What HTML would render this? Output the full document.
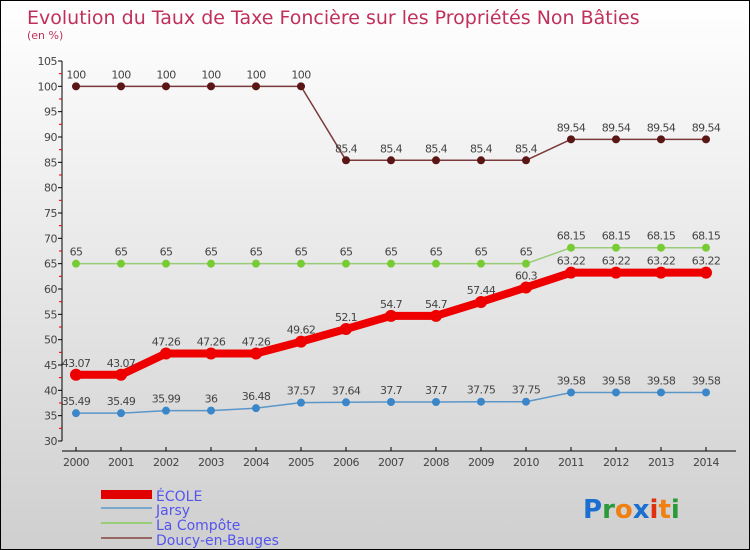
<!DOCTYPE html>
<html><head><meta charset="utf-8">
<style>
html,body{margin:0;padding:0;}
body{width:750px;height:550px;overflow:hidden;font-family:"DejaVu Sans","Liberation Sans",sans-serif;}
#wrap{position:absolute;left:0;top:0;width:748px;height:548px;border:1px solid #000;background:linear-gradient(#ffffff,#cfcfcf);}
</style></head>
<body>
<div id="wrap">
<svg id="chart" width="748" height="548" style="position:absolute;left:0;top:0">
<text x="26" y="23" font-size="19" fill="#c0305a">Evolution du Taux de Taxe Foncière sur les Propriétés Non Bâties</text>
<text x="26" y="38" font-size="11" fill="#c0305a">(en %)</text>
<g id="legend">
<rect x="100" y="489" width="51" height="9" fill="#e00000"/>
<text x="155" y="500" font-size="14" fill="#5555ee">ÉCOLE</text>
<rect x="100" y="506" width="51" height="2" fill="#7aa8cc"/>
<text x="155" y="514" font-size="14" fill="#5555ee">Jarsy</text>
<rect x="100" y="521" width="51" height="2" fill="#99cc77"/>
<text x="155" y="529" font-size="14" fill="#5555ee">La Compôte</text>
<rect x="100" y="536" width="51" height="2" fill="#996666"/>
<text x="155" y="544" font-size="14" fill="#5555ee">Doucy-en-Bauges</text>
</g>
<text x="582" y="517" font-size="26" font-weight="bold"><tspan fill="#1a6fd0">P</tspan><tspan fill="#2a9a3a">r</tspan><tspan fill="#f08010">o</tspan><tspan fill="#1a6fd0">x</tspan><tspan fill="#e03010">i</tspan><tspan fill="#f08010">t</tspan><tspan fill="#2a9a3a">i</tspan></text>
</svg>
</div>
<script>
const years = [2000,2001,2002,2003,2004,2005,2006,2007,2008,2009,2010,2011,2012,2013,2014];
const ecole = [43.07,43.07,47.26,47.26,47.26,49.62,52.1,54.7,54.7,57.44,60.3,63.22,63.22,63.22,63.22];
const jarsy = [35.49,35.49,35.99,36,36.48,37.57,37.64,37.7,37.7,37.75,37.75,39.58,39.58,39.58,39.58];
const compote = [65,65,65,65,65,65,65,65,65,65,65,68.15,68.15,68.15,68.15];
const doucy = [100,100,100,100,100,100,85.4,85.4,85.4,85.4,85.4,89.54,89.54,89.54,89.54];
const yTicks = [30,35,40,45,50,55,60,65,70,75,80,85,90,95,100,105];

const svg = document.getElementById('chart');
const NS = 'http://www.w3.org/2000/svg';
function x(i){ return 75 + i*45; }
function y(v){ return 440 - (v-30)*(380/75); }
function mk(tag, attrs){ const e=document.createElementNS(NS,tag); for(const k in attrs) e.setAttribute(k,attrs[k]); svg.appendChild(e); return e; }

// axes
let ax = mk('line',{x1:61,y1:y(105),x2:61,y2:y(30),stroke:'#000','stroke-width':1});


let xa = mk('line',{x1:61,y1:450,x2:735,y2:450,stroke:'#000','stroke-width':1});


yTicks.forEach(v=>{
  const t = mk('line',{x1:57,y1:y(v),x2:61,y2:y(v),stroke:'#000'});
  
  
  if(v<105){ const m = mk('line',{x1:58,y1:y(v+2.5),x2:61,y2:y(v+2.5),stroke:'#e00000'});
    
     }
  const l = mk('text',{x:56,y:y(v)+4,'font-size':11,fill:'#444','text-anchor':'end','letter-spacing':'-0.5'});
  l.textContent = v;
  
  
});
years.forEach((yr,i)=>{
  const t = mk('line',{x1:x(i),y1:446,x2:x(i),y2:450,stroke:'#000'});
  
  
  const l = mk('text',{x:x(i),y:465,'font-size':11,fill:'#444','text-anchor':'middle','letter-spacing':'-0.5'});
  l.textContent = yr;
  
  
});

function series(vals, color, dot, width, r, name){
  const pts = vals.map((v,i)=>x(i)+','+y(v)).join(' ');
  const pl = mk('polyline',{points:pts,fill:'none',stroke:color,'stroke-width':width,'stroke-linejoin':'round'});
  
  
  vals.forEach((v,i)=>{
    const c = mk('circle',{cx:x(i),cy:y(v),r:r,fill:dot});
    
    
    const l = mk('text',{x:x(i),y:y(v)-8,'font-size':11,fill:'#444','text-anchor':'middle','letter-spacing':'-0.6'});
    l.textContent = v;
    
    
  });
}
series(doucy,'#7a3a3a','#5a1515',1.5,4,'doucy');
series(compote,'#99cc77','#77cc33',1.5,4,'la-compote');
series(jarsy,'#5a96c8','#3a86c8',1.5,4,'jarsy');
series(ecole,'#ee0000','#ee0000',8,6,'ecole');
</script>
</body></html>
